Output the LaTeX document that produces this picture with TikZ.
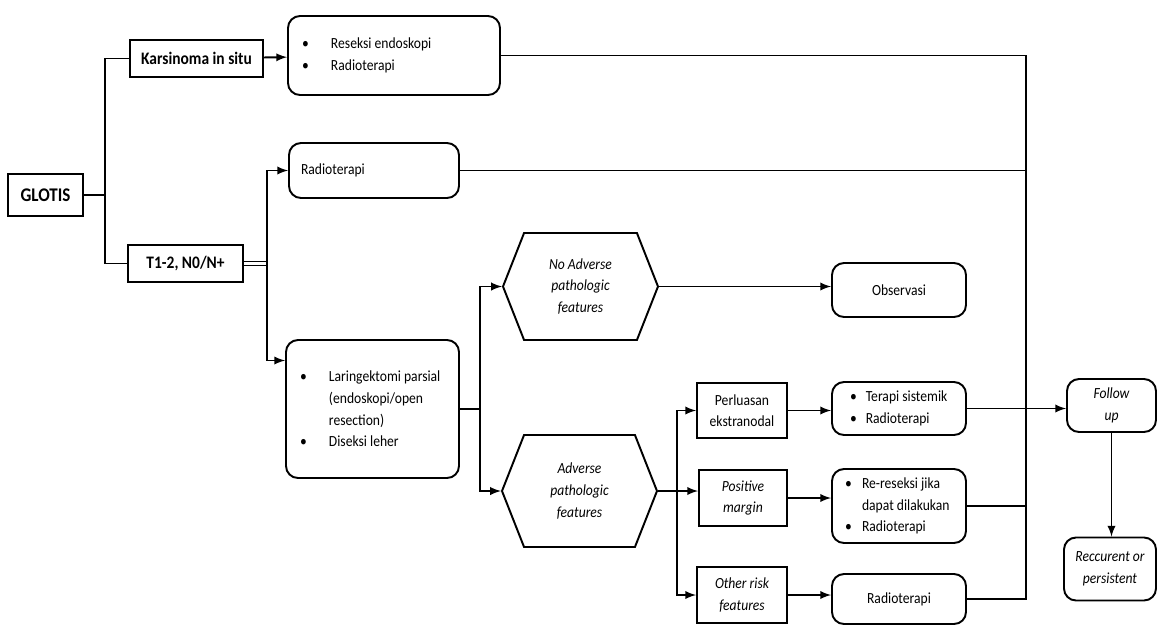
\documentclass[tikz,border=0pt]{standalone}
\usepackage{fontspec}
\setmainfont{Carlito}[FakeStretch=0.88]
\usetikzlibrary{arrows, positioning, shapes, calc}

\newcommand{\bl}[1][16.5pt]{\makebox[#1][l]{\textbullet}}

\begin{document}
\begin{tikzpicture}[>=latex, x=0.2mm, y=-0.2mm, line width=1.1pt, font=\fontsize{8.8}{12.3}\selectfont]
  \tikzset{
    sq/.style={
      draw=black,
      rectangle,
      align=center,
      inner sep=2pt},
    rnd/.style={
      draw=black,
      rectangle,
      rounded corners=2.4mm,
      align=center},
    lst/.style={
      rnd,
      align=flush left},
    hexa/.style={
      draw=black,
      signal,
      signal to=west and east,
      signal pointer angle=137,
      minimum width=31mm,
      minimum height=21.4mm,
      align=center,
      font=\fontsize{8.8}{12.3}\selectfont\itshape},
    bld/.style={
      font=\fontsize{10}{12}\selectfont\bfseries},
    itl/.style={
      font=\fontsize{8.8}{12.3}\selectfont\itshape}}

  \useasboundingbox (0,0) rectangle (1157,625);

  \node[sq, minimum width=15mm, minimum height=8.4mm, font=\fontsize{11}{12}\selectfont\bfseries] (glotis) at (45.5,195) {GLOTIS};
  \node[sq, bld, minimum width=26.6mm, minimum height=7.4mm] (kis) at (196.5,58.5) {Karsinoma in situ};
  \node[sq, bld, minimum width=23mm, minimum height=7.4mm] (t12) at (185.5,263.5) {T1-2, N0/N+};

  \node[lst, inner xsep=2.8mm, text width=36.8mm, minimum height=15.8mm] (reseksi) at (394,55.5)
    {\bl Reseksi endoskopi\\ \bl Radioterapi};
  \node[lst, inner xsep=2.4mm, text width=29.2mm, minimum height=11mm] (rt1) at (374,170.5) {Radioterapi};
  \node[lst, inner xsep=2.8mm, text width=29mm, minimum height=27.6mm] (lar) at (372.5,409)
    {\bl\mbox{Laringektomi parsial}\\ \hspace*{16.5pt}(endoskopi/open\\ \hspace*{16.5pt}resection)\\ \bl Diseksi leher};

  \node[hexa] (noadv) at (580.5,286.5) {No Adverse\\pathologic\\features};
  \node[hexa, minimum height=22.4mm] (adv) at (579.5,491) {Adverse\\pathologic\\features};

  \node[rnd, minimum width=26.8mm, minimum height=10.8mm] (obs) at (899,290) {Observasi};

  \node[sq, minimum width=18mm, minimum height=11mm] (perl) at (742,410.5) {Perluasan\\ekstranodal};
  \node[sq, itl, minimum width=17.6mm, minimum height=11.2mm] (pos) at (743,498) {Positive\\margin};
  \node[sq, itl, minimum width=18mm, minimum height=11.2mm] (oth) at (742,595) {Other risk\\features};

  \node[lst, inner xsep=3.6mm, text width=19.6mm, minimum height=10.6mm] (ter) at (899,408.5)
    {\bl[9pt]\mbox{Terapi sistemik}\\ \bl[9pt]Radioterapi};
  \node[lst, inner xsep=2.6mm, text width=21.6mm, minimum height=14.8mm] (rer) at (899,506)
    {\bl[9.7pt]\mbox{Re-reseksi jika}\\ \hspace*{9.7pt}\mbox{dapat dilakukan}\\ \bl[9.7pt]Radioterapi};
  \node[rnd, minimum width=26.8mm, minimum height=10mm] (rt2) at (899,599) {Radioterapi};

  \node[rnd, itl, minimum width=17.8mm, minimum height=10.6mm] (fu) at (1111.5,405.5) {Follow\\up};
  \node[rnd, itl, minimum width=18.4mm, minimum height=12.6mm] (rec) at (1110,569) {Reccurent or\\persistent};

  \coordinate (g1) at (105,195);
  \coordinate (j2) at (267,263.5);
  \coordinate (j3) at (480,409);
  \coordinate (j4) at (677,491);
  \coordinate (bus) at (1026,599);

  % GLOTIS split
  \draw (glotis.east) -- (g1);
  \draw (kis.west) -| (g1) |- (t12.west);
  \draw[->] (kis) -- (reseksi);

  % T1-2 branches
  \draw[double, double distance=1.2pt, line width=0.7pt] (t12.east) -- (j2);
  \draw[->] (j2) |- (rt1.west);
  \draw[->] (j2) |- (lar.151);

  \draw (lar.east) -- (j3);
  \draw[->] (j3) |- (noadv.west);
  \draw[->] (j3) |- (adv.west);
  \draw[->] (noadv.east) -- (noadv.east -| obs.west);

  \draw (adv.east) -- (j4);
  \draw[->] (j4) |- (perl.west);
  \draw[->] (j4) -- (j4 -| pos.west);
  \draw[->] (j4) |- (oth.west);

  \draw[->] (perl.east) -- (perl.east -| ter.west);
  \draw[->] (pos.east) -- (pos.east -| rer.west);
  \draw[->] (oth.east) -- (oth.east -| rt2.west);

  % collecting line on the right
  \draw (reseksi.east) -| (bus) -- (rt2.east);
  \draw (rt1.east) -- (rt1.east -| bus);
  \draw (rer.east) -- (rer.east -| bus);

  \draw[->] (ter.east) -- (ter.east -| fu.west);
  \draw[->] (fu.south) -- (fu.south |- rec.north);

\end{tikzpicture}
\end{document}
